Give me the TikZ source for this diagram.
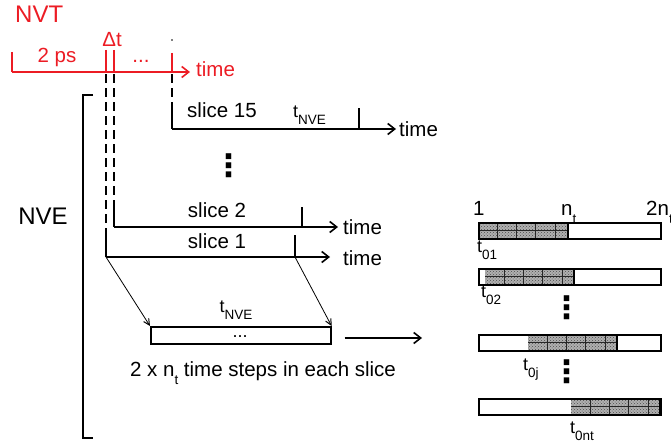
\documentclass[tikz,border=0pt]{standalone}
\usepackage{fontspec}
\setmainfont{Liberation Sans}
\newfontfamily\symfont{DejaVu Sans}
\usetikzlibrary{arrows.meta,patterns}
\definecolor{nvtred}{RGB}{236,28,36}
% lowered subscript in a smaller size
\newcommand\lowsub[1]{\raisebox{-0.42em}{\fontsize{13.5}{14}\selectfont #1}}
% bar of 2n_t steps with a shaded window of n_t steps:
% bar top, shaded start, shaded end, node name
\newcommand\originbar[4]{%
  \fill[shade] (#2,#1) rectangle (#3,#1+16);
  \begin{scope}
    \clip (#2,#1) rectangle (#3,#1+16);
    \foreach \k in {1,...,5} \draw[cell] (#2+19.2*\k,#1) -- (#2+19.2*\k,#1+16);
    \draw[cell] (#2,#1+8) -- (#3,#1+8);
  \end{scope}
  \draw[barframe] (#3,#1) -- (#3,#1+16);
  \node[barframe, minimum width=182pt, minimum height=16pt, inner sep=0pt, anchor=north west] (#4) at (478,#1) {};
}

\begin{document}
\begin{tikzpicture}[x=1pt,y=-1pt,
  txt/.style={font=\fontsize{20.5}{24}\selectfont, inner sep=0pt},
  tsym/.style={font=\fontsize{18}{20}\selectfont, inner sep=0pt},
  big/.style={font=\fontsize{24}{28}\selectfont, inner sep=0pt},
  barb/.style={-{Straight Barb[length=7pt,width=11pt,line width=1.6pt]}},
  smallbarb/.style={-{Straight Barb[length=6pt,width=6pt,line width=1pt]}},
  redline/.style={draw=nvtred, line width=1.8pt},
  thick axis/.style={line width=2pt},
  thin axis/.style={line width=1.3pt},
  guide/.style={line width=1.8pt, dash pattern=on 9pt off 5pt},
  tickline/.style={line width=1.3pt},
  barframe/.style={draw, line width=1.8pt},
  shade/.style={fill=gray!62, postaction={pattern=crosshatch dots, pattern color=black!70}},
  cell/.style={line width=0.5pt, draw=black!85},
  vdot/.style={font=\symfont\bfseries\fontsize{31}{31}\selectfont, inner sep=0pt}]
\useasboundingbox (0,0) rectangle (671,444);

% ---------------- NVT equilibration axis ----------------
\node[big, text=nvtred, anchor=base west] (nvt) at (15,23) {NVT};
\coordinate (r0) at (12,72);
\coordinate (r1) at (190,72);
\draw[redline, barb] (r0) -- (r1);
\coordinate (rt0) at (12,52);
\coordinate (rta) at (106,50);
\coordinate (rtb) at (114,50);
\coordinate (rtc) at (172,53);
\coordinate (ra) at (106,72);
\coordinate (rb) at (114,72);
\coordinate (rc) at (172,72);
\draw[redline] (rt0) -- (r0);
\draw[redline] (rta) -- (ra);
\draw[redline] (rtb) -- (rb);
\draw[redline] (rtc) -- (rc);
\node[txt, text=nvtred, anchor=base] (ps) at (57,63) {2 ps};
\node[txt, text=nvtred, anchor=base] (dt) at (112,47) {Δt};
\node[txt, text=nvtred, anchor=base] (rdots) at (141,63) {...};
\node[txt, text=nvtred, anchor=base west] (rtime) at (196,76) {time};
\coordinate (mark) at (172,40);
\fill (mark) circle (0.8pt);

% ---------------- NVE bracket ----------------
\coordinate (bt) at (93,95);
\coordinate (bb) at (93,438);
\draw[line width=1.1pt] (bt) -- ++(-10,0) -- ++(0,343) -- (bb);
\node[big, anchor=base] (nve) at (43,224) {NVE};

% ---------------- slice 15 ----------------
\coordinate (s15a) at (172,129);
\coordinate (s15b) at (396,129);
\coordinate (s15s) at (172,108);
\coordinate (s15e) at (359,129);
\coordinate (s15et) at (359,108);
\draw[guide] (rc) ++(0,2) -- (s15s);
\draw[thick axis] (s15s) -- (s15a);
\draw[thick axis, barb] (s15a) -- (s15b);
\draw[thick axis] (s15et) -- (s15e);
\node[txt, anchor=base west] (sl15) at (187,117) {slice 15};
\node[tsym, anchor=base west] (tn15) at (293,117) {t\lowsub{NVE}};
\node[txt, anchor=base west] (tm15) at (399,136) {time};

\node[vdot] (vd1) at (229,166) {⋮};

% ---------------- slice 2 ----------------
\coordinate (s2a) at (114,227);
\coordinate (s2b) at (338,227);
\coordinate (s2s) at (114,205);
\coordinate (s2e) at (302,227);
\coordinate (s2et) at (302,207);
\draw[guide] (rb) ++(0,2) -- (s2s);
\draw[thick axis] (s2s) -- (s2a);
\draw[thick axis, barb] (s2a) -- (s2b);
\draw[tickline] (s2et) -- (s2e);
\node[txt, anchor=base] (sl2) at (217,217) {slice 2};
\node[txt, anchor=base west] (tm2) at (343,234) {time};

% ---------------- slice 1 ----------------
\coordinate (s1a) at (106,257);
\coordinate (s1b) at (330,257);
\coordinate (s1s) at (106,236);
\coordinate (s1e) at (295,257);
\coordinate (s1et) at (295,235);
\draw[guide] (ra) ++(0,2) -- (s1s);
\draw[tickline] (s1s) -- (s1a);
\draw[thin axis, barb] (s1a) -- (s1b);
\draw[tickline] (s1et) -- (s1e);
\node[txt, anchor=base] (sl1) at (217,248) {slice 1};
\node[txt, anchor=base west] (tm1) at (343,265) {time};

% ---------------- expanded slice ----------------
\node[draw, line width=1.6pt, minimum width=180pt, minimum height=17pt, inner sep=0pt, anchor=north west]
  (win) at (150,326) {};
\node[tsym, anchor=base] (wdots) at (240,337) {...};
\node[tsym, anchor=base] (tnw) at (236,312) {t\lowsub{NVE}};
\draw[line width=0.8pt, smallbarb] (s1a) -- (win.north west);
\draw[line width=0.8pt, smallbarb] (s1e) -- (win.north east);
\node[txt, anchor=base] (steps) at (263,376) {2 x n\lowsub{t} time steps in each slice};
\coordinate (go) at (422,338);
\draw[thick axis, barb] (win.east |- go) ++(13,0) -- (go);

% ---------------- time origins within a slice ----------------
\node[txt, anchor=base west] (one) at (473,215) {1};
\node[txt, anchor=base west] (nt) at (561,215) {n\lowsub{t}};
\node[txt, anchor=base west] (twon) at (646,215) {2n\lowsub{t}};

\originbar{222}{478}{568}{bar1}
\originbar{268}{485}{574}{bar2}
\originbar{334}{528}{617}{bar3}
\originbar{398}{571}{660}{bar4}

\node[tsym, anchor=base west] (t01) at (477,252) {t\lowsub{01}};
\node[tsym, anchor=base west] (t02) at (481,297) {t\lowsub{02}};
\node[tsym, anchor=base west] (t0j) at (523,370) {t\lowsub{0j}};
\node[tsym, anchor=base west] (t0nt) at (570,433) {t\lowsub{0nt}};
\node[vdot] (vd2) at (567,308) {⋮};
\node[vdot] (vd3) at (567,372) {⋮};
\end{tikzpicture}
\end{document}
